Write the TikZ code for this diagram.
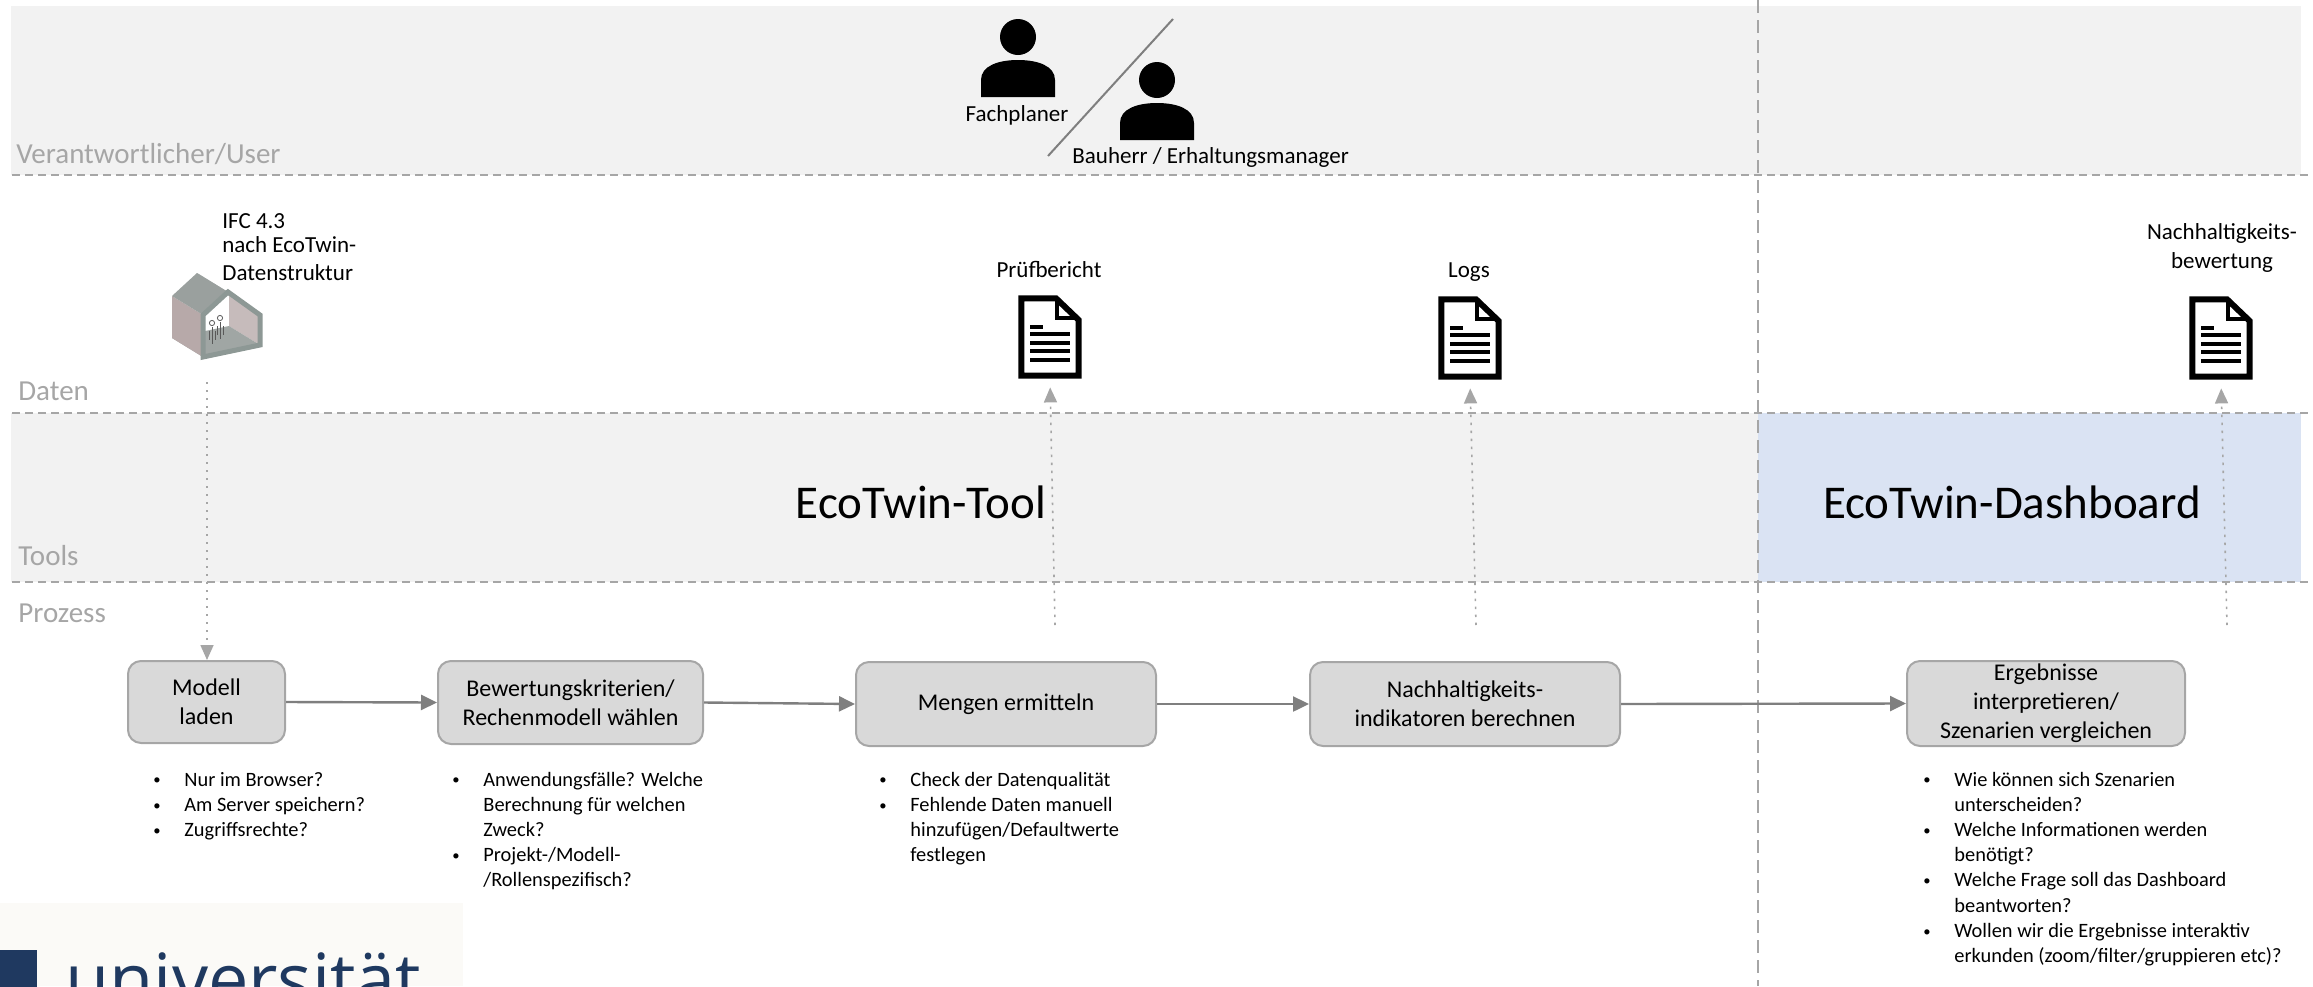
\documentclass[tikz,border=0pt]{standalone}
\usepackage{fontspec}
\setmainfont{Carlito}
\newfontfamily\logofont{Open Sans}
\usetikzlibrary{arrows.meta}

\definecolor{band}{HTML}{F2F2F2}
\definecolor{dashband}{HTML}{DAE3F3}
\definecolor{rulegray}{HTML}{A6A6A6}
\definecolor{lanetext}{HTML}{A6A6A6}
\definecolor{boxfill}{HTML}{D9D9D9}
\definecolor{boxline}{HTML}{A6A6A6}
\definecolor{flowgray}{HTML}{7F7F7F}
\definecolor{navy}{HTML}{1F3960}
\definecolor{logobg}{HTML}{FBFAF7}
\definecolor{wallside}{HTML}{B7A9A9}
\definecolor{wallin}{HTML}{C6BBBB}
\definecolor{roofgray}{HTML}{9AA09E}
\definecolor{ceilgray}{HTML}{ABB1AF}
\definecolor{floorgray}{HTML}{A0A6A4}
\definecolor{framegray}{HTML}{8D9895}

% small bullet in a fixed-width slot
\newcommand\bul{\makebox[16pt][l]{\hspace{0.5pt}\raisebox{0.6pt}{\scalebox{0.72}{\textbullet}}}}

\tikzset{
  lanerule/.style={rulegray, line width=1pt, dash pattern=on 4pt off 2.5pt},
  divider/.style={rulegray, line width=0.7pt, dash pattern=on 6.5pt off 3.5pt},
  stepbox/.style={draw=boxline, line width=1pt, fill=boxfill, rounded corners=6.5pt,
    align=center, font=\fontsize{12}{14.5}\selectfont, inner sep=0pt},
  flow/.style={flowgray, line width=1.2pt, -{Triangle[length=8pt,width=7.5pt]}},
  dotflow/.style={rulegray, line width=0.8pt, dash pattern=on 1.2pt off 2.8pt,
    -{Triangle[length=7.5pt,width=6.5pt]}},
  lanelabel/.style={text=lanetext, font=\fontsize{14.5}{17}\selectfont, anchor=base west, inner sep=0pt},
  infotext/.style={font=\fontsize{11.5}{14.5}\selectfont, inner sep=0pt},
  bullets/.style={font=\fontsize{10.2}{12.6}\selectfont, anchor=base west, inner sep=0pt},
  tooltitle/.style={font=\fontsize{23.5}{28}\selectfont, anchor=base, inner sep=0pt},
  docslot/.style={minimum width=32pt, minimum height=42pt, inner sep=0pt},
  person/.pic={
    \fill (0,0) circle[radius=9pt];
    \fill (-37,60) -- (-37,43) .. controls (-37,29) and (-20,23) .. (0,23)
          .. controls (20,23) and (37,29) .. (37,43) -- (37,60) -- cycle;
  },
  docicon/.pic={
    \draw[line width=3pt, line join=miter, fill=white]
      (-28.7,-38.7) -- (6,-38.7) -- (28.7,-17) -- (28.7,38.7) -- (-28.7,38.7) -- cycle;
    \draw[line width=2pt, line join=miter] (7,-38.7) -- (7,-19.5) -- (28.7,-19.5);
    \draw[line width=1.75pt] (-20,-10) -- (-7,-10);
    \foreach \yy in {-3,6,14,23} \draw[line width=1.75pt] (-20,\yy) -- (20,\yy);
  }
}

\begin{document}
\begin{tikzpicture}[x=0.5pt,y=-0.5pt]
\useasboundingbox (0,0) rectangle (2313,986);
\begin{scope}
\clip (0,0) rectangle (2313,986);

% lane backgrounds
\fill[band] (11,6) rectangle (2301,175);
\fill[band] (11,413) rectangle (1758,582);
\fill[dashband] (1758,413) rectangle (2301,582);

% lane separators
\draw[lanerule] (12,175) -- (2313,175);
\draw[lanerule] (12,413) -- (2313,413);
\draw[lanerule] (12,582) -- (2313,582);
\draw[divider] (1758,0) -- (1758,986);

% lane labels
\node[lanelabel] (laneuser) at (16,163) {Verantwortlicher/User};
\node[lanelabel] (lanedata) at (18,400) {Daten};
\node[lanelabel] (lanetools) at (18,565) {Tools};
\node[lanelabel] (laneproc) at (18,622) {Prozess};

% responsible persons
\pic at (1018,37) {person};
\pic at (1157,80) {person};
\draw[flowgray, line width=1pt] (1173,19) -- (1048,156);
\node[infotext, anchor=base] (fachplaner) at (1017,121) {Fachplaner};
\node[infotext, anchor=base west] (bauherr) at (1072,163) {Bauherr / Erhaltungsmanager};

% IFC model (house section)
\fill[white] (172,338) -- (172,296) -- (197,273) -- (229,296) -- (229,326) -- cycle;
\fill[wallin] (229,296) -- (229,326) -- (260,345) -- (260,315) -- cycle;
\fill[ceilgray] (197,273) -- (229,296) -- (260,315) -- (228,292) -- cycle;
\fill[floorgray] (172,338) -- (229,326) -- (260,345) -- (203,357) -- cycle;
\fill[wallside] (203,357) -- (203,315) -- (172,296) -- (172,338) -- cycle;
\fill[roofgray] (203,315) -- (228,292) -- (197,273) -- (172,296) -- cycle;
\draw[framegray, line width=2.5pt, line join=miter]
  (203,357) -- (260,345) -- (260,315) -- (228,292) -- (203,315) -- cycle;
\begin{scope}[draw=black!65, line width=0.4pt]
  \draw (212,323) circle[radius=1.3pt];
  \draw (212,327) -- (212,344);
  \draw (209,331) -- (209,340) (215,331) -- (215,340);
  \draw (220,318) circle[radius=1.3pt];
  \draw (220,322) -- (220,339);
  \draw (217,326) -- (217,335) (223,326) -- (223,335);
\end{scope}
\coordinate (ifcbase) at (207,382);
\node[infotext, font=\fontsize{11.5}{12}\selectfont, anchor=north west, align=left] (ifctext)
  at (222,213) {IFC 4.3\\nach EcoTwin-\\[2pt]Datenstruktur};

% data documents
\node[docslot] (doc1) at (1050,337) {};
\node[docslot] (doc2) at (1470,338) {};
\node[docslot] (doc3) at (2221,338) {};
\pic at (doc1.center) {docicon};
\pic at (doc2.center) {docicon};
\pic at (doc3.center) {docicon};
\node[infotext, anchor=base] (pruef) at (1049,277) {Prüfbericht};
\node[infotext, anchor=base] (logs) at (1469,277) {Logs};
\node[infotext, anchor=north, align=center] (bewertung) at (2222,223) {Nachhaltigkeits-\\bewertung};

% tools
\node[tooltitle] (tool) at (921,518) {EcoTwin-Tool};
\node[tooltitle] (dashboard) at (2012,518) {EcoTwin-Dashboard};

% process steps
\node[stepbox, minimum width=78.5pt, minimum height=41pt] (m1) at (206.5,702) {Modell\\laden};
\node[stepbox, minimum width=132.5pt, minimum height=41.5pt] (m2) at (570.5,702.5) {Bewertungskriterien/\\Rechenmodell wählen};
\node[stepbox, minimum width=150pt, minimum height=42pt] (m3) at (1006,704) {Mengen ermitteln};
\node[stepbox, minimum width=155pt, minimum height=42pt] (m4) at (1465,704) {Nachhaltigkeits-\\indikatoren berechnen};
\node[stepbox, minimum width=139pt, minimum height=42.5pt] (m5) at (2046,703.5) {Ergebnisse\\interpretieren/\\Szenarien vergleichen};

\draw[flow] (m1.east) -- (m2.west);
\draw[flow] (m2.east) -- (m3.west);
\draw[flow] (m3.east) -- (m4.west);
\draw[flow] (m4.east) -- (m5.west);

% data flow between lanes
\draw[dotflow] (ifcbase) -- (ifcbase |- m1.north);
\coordinate (q1) at (1055,625);
\coordinate (q2) at (1476,625);
\coordinate (q3) at (2227,625);
\draw[dotflow, shorten >=4pt] (q1) -- (doc1.south);
\draw[dotflow, shorten >=4pt] (q2) -- (doc2.south);
\draw[dotflow, shorten >=4pt] (q3) -- (doc3.south);

% open questions per step
\node[bullets] (b1) at (152,786) {\begin{tabular}[t]{@{}l@{}l@{}}
\bul&Nur im Browser?\\
\bul&Am Server speichern?\\
\bul&Zugriffsrechte?
\end{tabular}};
\node[bullets] (b2) at (451,786) {\begin{tabular}[t]{@{}l@{}l@{}}
\bul&Anwendungsfälle? Welche\\
&Berechnung für welchen\\
&Zweck?\\
\bul&Projekt-/Modell-\\
&/Rollenspezifisch?
\end{tabular}};
\node[bullets] (b3) at (878,786) {\begin{tabular}[t]{@{}l@{}l@{}}
\bul&Check der Datenqualität\\
\bul&Fehlende Daten manuell\\
&hinzufügen/Defaultwerte\\
&festlegen
\end{tabular}};
\node[bullets] (b5) at (1922,786) {\begin{tabular}[t]{@{}l@{}l@{}}
\bul&Wie können sich Szenarien\\
&unterscheiden?\\
\bul&Welche Informationen werden\\
&benötigt?\\
\bul&Welche Frage soll das Dashboard\\
&beantworten?\\
\bul&Wollen wir die Ergebnisse interaktiv\\
&erkunden (zoom/filter/gruppieren etc)?
\end{tabular}};

% university logo
\fill[logobg] (0,903) rectangle (463,986);
\fill[navy] (0,950) rectangle (37,990);
\node[font=\logofont\fontsize{36}{40}\selectfont, text=navy, anchor=base west, inner sep=0pt]
  (uni) at (65,1005) {universität};
\end{scope}
\end{tikzpicture}
\end{document}
